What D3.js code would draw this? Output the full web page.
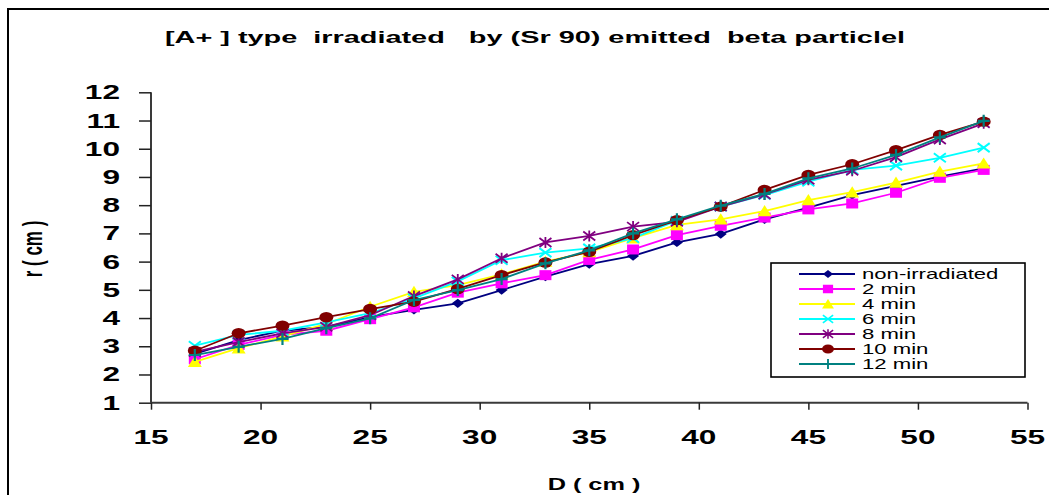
<!DOCTYPE html>
<html><head><meta charset="utf-8">
<script src="https://cdn.jsdelivr.net/npm/d3@7"></script>
<style>html,body{margin:0;padding:0;background:#fff;}svg{display:block;}</style>
</head><body>
<svg id="c" width="1049" height="495"></svg>
<script>
// ---------------- data ----------------
const dValues = [17,19,21,23,25,27,29,31,33,35,37,39,41,43,45,47,49,51,53];
const nonIrradiated = [2.73,3.22,3.55,3.69,4.03,4.29,4.52,4.99,5.47,5.91,6.20,6.68,6.98,7.50,7.91,8.36,8.68,9.01,9.30];
const min2  = [2.54,3.05,3.40,3.55,3.96,4.38,4.90,5.23,5.52,6.06,6.43,6.94,7.27,7.56,7.85,8.06,8.44,8.97,9.25];
const min4  = [2.45,2.93,3.35,3.79,4.40,4.93,5.17,5.55,6.00,6.34,6.83,7.30,7.50,7.79,8.18,8.46,8.80,9.19,9.48];
const min6  = [3.02,3.40,3.55,3.85,4.17,4.70,5.30,6.05,6.32,6.47,6.83,7.45,7.95,8.36,8.83,9.25,9.40,9.68,10.04];
const min8  = [2.80,3.15,3.46,3.69,4.10,4.78,5.37,6.12,6.68,6.91,7.24,7.41,7.95,8.38,8.90,9.22,9.70,10.33,10.90];
const min10 = [2.84,3.46,3.73,4.03,4.32,4.58,5.03,5.52,5.97,6.35,6.94,7.47,7.95,8.54,9.07,9.45,9.95,10.49,10.96];
const min12 = [2.69,2.98,3.26,3.64,3.99,4.64,4.99,5.38,5.94,6.40,7.00,7.50,7.98,8.40,8.95,9.30,9.78,10.40,10.99];
const seriesNames = ["non-irradiated","2 min","4 min","6 min","8 min","10 min","12 min"];
const seriesValues = [nonIrradiated,min2,min4,min6,min8,min10,min12];
const xTicks = [15,20,25,30,35,40,45,50,55];
const yTicks = [1,2,3,4,5,6,7,8,9,10,11,12];
const titleText = "[A+ ] type  irradiated   by (Sr 90) emitted  beta particlel";
const xTitle = "D ( cm )";
const yTitle = "r ( cm )";

// ---------------- styles ----------------
const colors = ["#000080","#FF00FF","#FFFF00","#00FFFF","#800080","#800000","#008080"];
const symbols = ["diamond","square","triangle","x","star","circle","plus"];
const FONT = "'Liberation Sans', Arial, sans-serif";
const SX = 1.58;

const svg = d3.select("#c");
svg.append("rect").attr("width",1049).attr("height",495).attr("fill","#fff");
// outer frame (continues beyond right/bottom edges)
svg.append("rect").attr("x",8).attr("y",9).attr("width",1100).attr("height",600)
  .attr("fill","none").attr("stroke","#000").attr("stroke-width",2);

const x = d3.scaleLinear().domain([15,55]).range([151,1027.5]);
const y = d3.scaleLinear().domain([1,12]).range([402.7,92.3]);

function stretchedText(g, tx, ty, txt, size, weight, anchor, extra){
  return g.append("text")
    .attr("transform",`translate(${tx},${ty}) scale(${SX},1)` + (extra||""))
    .attr("text-anchor",anchor).attr("font-family",FONT)
    .attr("font-size",size).attr("font-weight",weight).attr("fill","#000")
    .text(txt);
}

// title
svg.append("text").attr("x",165).attr("y",43)
  .attr("font-family",FONT).attr("font-size",16).attr("font-weight","bold")
  .attr("textLength",740).attr("lengthAdjust","spacingAndGlyphs")
  .style("white-space","pre").attr("xml:space","preserve")
  .text(titleText);

// axes
const axisColor = "#3a3a3a";
const yAxis = svg.append("g").attr("transform","translate(151,0)")
  .call(d3.axisLeft(y).tickValues(yTicks).tickSize(12).tickFormat(""));
const xAxis = svg.append("g").attr("transform","translate(0,402.7)")
  .call(d3.axisBottom(x).tickValues(xTicks).tickSize(7).tickFormat(""));
[xAxis,yAxis].forEach(a=>{
  a.select(".domain").attr("stroke",axisColor).attr("stroke-width",2);
  a.selectAll(".tick line").attr("stroke","#222").attr("stroke-width",1.5);
});
xAxis.select(".domain").attr("d",`M${x(15)},0H${x(55)}`);
yAxis.select(".domain").attr("d",`M0,${y(1)}V${y(12)}`);

yTicks.forEach(t=>{
  stretchedText(svg,120,y(t)+7,String(t),20,"bold","end");
});
xTicks.forEach(t=>{
  stretchedText(svg,x(t),443.5,String(t),20,"bold","middle");
});
stretchedText(svg,594,490,xTitle,16,"bold","middle");
svg.append("text")
  .attr("transform",`translate(42,249) scale(${SX},1) rotate(-90)`)
  .attr("text-anchor","middle").attr("font-family",FONT)
  .attr("font-size",17).attr("font-weight","bold").text(yTitle);

// markers
function drawMarker(g, sym, color, cx, cy, k){
  k = k||1;
  const m = g.append("g").attr("transform",`translate(${cx},${cy}) scale(${k})`);
  switch(sym){
    case "diamond":
      m.append("path").attr("d","M0,-4.7L6,0L0,4.7L-6,0Z").attr("fill",color); break;
    case "square":
      m.append("rect").attr("x",-6).attr("y",-5).attr("width",12).attr("height",10).attr("fill",color); break;
    case "triangle":
      m.append("path").attr("d","M0,-6L7,5.2L-7,5.2Z").attr("fill",color); break;
    case "x":
      m.append("path").attr("d","M-6,-4.5L6,4.5M-6,4.5L6,-4.5").attr("stroke",color).attr("stroke-width",2).attr("fill","none"); break;
    case "star":
      m.append("path").attr("d","M-6,-4.5L6,4.5M-6,4.5L6,-4.5M0,-5.5V5.5").attr("stroke",color).attr("stroke-width",1.8).attr("fill","none"); break;
    case "circle":
      m.append("ellipse").attr("rx",7).attr("ry",5.2).attr("fill",color); break;
    case "plus":
      m.append("path").attr("d","M-6,0H6M0,-6V6").attr("stroke",color).attr("stroke-width",2.2).attr("fill","none"); break;
  }
}

const line = d3.line().x(d=>x(d[0])).y(d=>y(d[1]));
seriesValues.forEach((vals,i)=>{
  const pts = dValues.map((d,j)=>[d,vals[j]]);
  const g = svg.append("g");
  g.append("path").datum(pts).attr("d",line).attr("fill","none")
    .attr("stroke",colors[i]).attr("stroke-width",1.8);
  pts.forEach(p=>drawMarker(g,symbols[i],colors[i],x(p[0]),y(p[1]),1));
});

// legend
const lg = svg.append("g");
lg.append("rect").attr("x",771).attr("y",263).attr("width",254).attr("height",114)
  .attr("fill","#fff").attr("stroke","#000").attr("stroke-width",1.6);
seriesNames.forEach((nm,i)=>{
  const yy = 274 + i*15;
  lg.append("line").attr("x1",799).attr("x2",855).attr("y1",yy).attr("y2",yy)
    .attr("stroke",colors[i]).attr("stroke-width",1.8);
  drawMarker(lg,symbols[i],colors[i],828,yy,0.85);
  stretchedText(lg,862,yy+5,nm,14,"normal","start");
});
</script>
</body></html>
